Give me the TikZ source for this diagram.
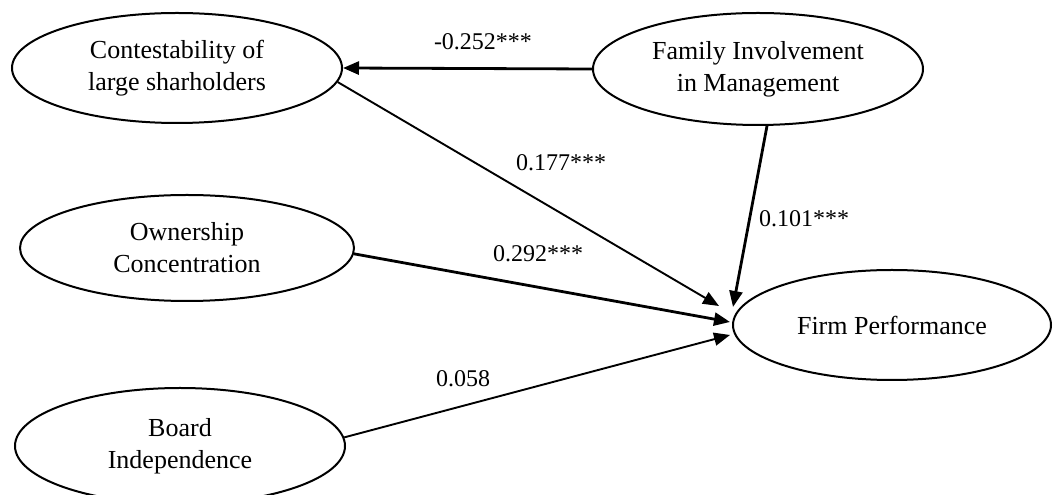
\documentclass[tikz,border=0pt]{standalone}
\usepackage{fontspec}
\setmainfont{Liberation Serif}
\usetikzlibrary{shapes.geometric,arrows.meta}
\begin{document}
\begin{tikzpicture}[x=1pt,y=1pt,
  latent/.style={draw,ellipse,line width=2pt,inner sep=0pt,align=center,
    font=\fontsize{26}{32}\selectfont},
  lbl/.style={inner sep=0pt,font=\fontsize{24}{32}\selectfont},
  effect/.style={line width=1.9pt,-{Triangle[length=16pt,width=13pt]}},
  effectstrong/.style={effect,line width=2.8pt}]
\useasboundingbox (0,0) rectangle (1053,495);
% constructs
\node[latent,minimum width=330pt,minimum height=110pt] (cont) at (177,427) {Contestability of\\large sharholders};
\node[latent,minimum width=330pt,minimum height=112pt] (fam) at (758,426) {Family Involvement\\in Management};
\node[latent,minimum width=334pt,minimum height=106pt] (own) at (187,247) {Ownership\\Concentration};
\node[latent,minimum width=330pt,minimum height=116pt] (board) at (180,49) {Board\\Independence};
\node[latent,minimum width=318pt,minimum height=110pt] (firm) at (892,170) {Firm Performance};
% arrow tips near Firm Performance
\coordinate (t1) at (719,189);
\coordinate (t2) at (733,188);
\coordinate (t3) at (730,173);
\coordinate (t4) at (730,160);
% paths
\draw[effectstrong] (fam.west) -- (cont.east);
\draw[effect] (cont.-5.6) -- (t1);
\draw[effectstrong] (fam.-81) -- (t2);
\draw[effectstrong] (own.-2) -- (t3);
\draw[effect] (board.3) -- (t4);
% labels
\node[lbl] (l1) at (483,453) {-0.252***};
\node[lbl] (l2) at (561,332) {0.177***};
\node[lbl] (l3) at (538,241) {0.292***};
\node[lbl] (l4) at (804,276) {0.101***};
\node[lbl] (l5) at (463,116) {0.058};
\end{tikzpicture}
\end{document}
